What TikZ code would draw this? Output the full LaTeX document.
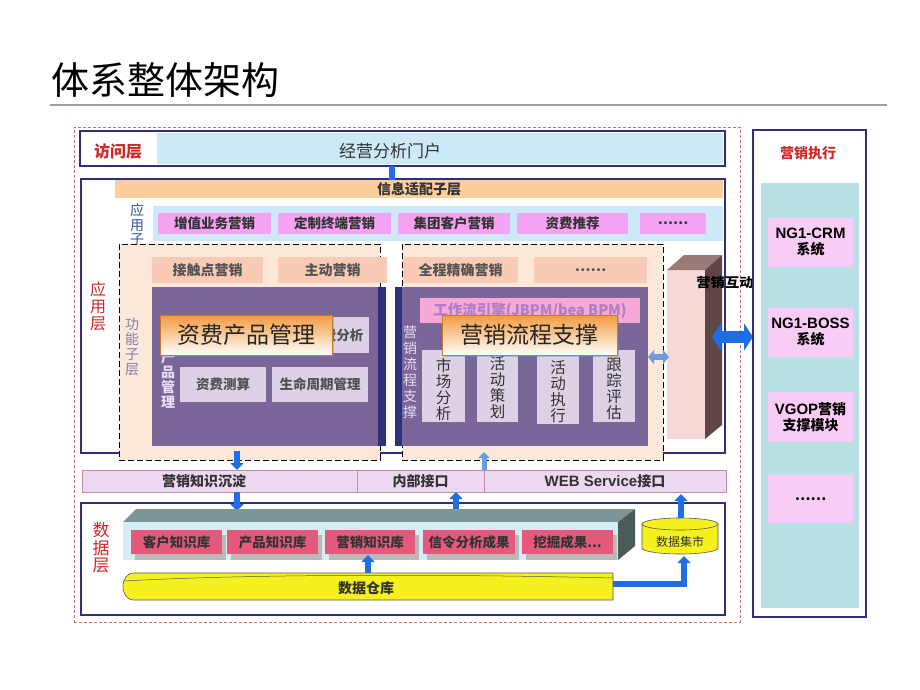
\documentclass[tikz,border=0pt]{standalone}
\usepackage{fontspec}
\setmainfont{Noto Sans CJK SC}
\newfontfamily\arialf{Liberation Sans}
\usetikzlibrary{arrows.meta,shadows}
\definecolor{navy}{HTML}{2F2F7C}
\definecolor{redt}{HTML}{D02828}
\definecolor{outerc}{HTML}{C87070}
\definecolor{lblue}{HTML}{CDE9F8}
\definecolor{orbar}{HTML}{FBCF9C}
\definecolor{mag}{HTML}{F4A2F2}
\definecolor{peach}{HTML}{FCE9DA}
\definecolor{salmon}{HTML}{F9CBB6}
\definecolor{purp}{HTML}{7A6698}
\definecolor{lav}{HTML}{DDD1E5}
\definecolor{lavtext}{HTML}{E6DEF2}
\definecolor{pinkbar}{HTML}{F6A8D6}
\definecolor{wftext}{HTML}{B07CC6}
\definecolor{ifrow}{HTML}{ECD8F1}
\definecolor{ifline}{HTML}{C58CA0}
\definecolor{dbox}{HTML}{E6587C}
\definecolor{yel}{HTML}{F5F01E}
\definecolor{abl}{HTML}{1F6EE6}
\definecolor{abl2}{HTML}{6C9CE0}
\definecolor{tealc}{HTML}{B9E0E4}
\definecolor{pinkc}{HTML}{F8CCF4}
\definecolor{ovltop}{HTML}{F39A3C}
\definecolor{plat}{HTML}{7B9595}
\definecolor{platside}{HTML}{4B5A5A}
\definecolor{platfront}{HTML}{D4EDF2}
\definecolor{fnlabel}{HTML}{8A7AAA}
\definecolor{apsub}{HTML}{3454A8}
\definecolor{dark}{HTML}{333333}
\definecolor{pilfront}{HTML}{F8D8D6}
\definecolor{piltop}{HTML}{9A7A78}
\definecolor{pilside}{HTML}{5E4646}
\newcommand\bx[7]{%
 \pgfmathsetmacro\bxw{#4-#2}\pgfmathsetmacro\bxh{#5-#3}%
 \node[#6,minimum width=\bxw pt,minimum height=\bxh pt,inner sep=0pt,outer sep=0pt] (#1) at ({(#2+#4)/2},{(#3+#5)/2}) {#7};}
\begin{document}
\begin{tikzpicture}[x=1pt,y=-1pt,
  tx/.style={font=\fontsize{#1}{#1}\selectfont},
  tb/.style={font=\fontsize{#1}{#1}\selectfont\bfseries},
  vt/.style 2 args={font=\fontsize{#1}{#2}\selectfont, align=center},
  vtb/.style 2 args={font=\fontsize{#1}{#2}\selectfont\bfseries, align=center},
  frame/.style={draw=navy,line width=2.5pt,fill=white},
  fnbox/.style={fill=peach,draw=black,dash pattern=on 6pt off 3pt,line width=0.7pt},
  rowbox/.style={fill=mag,tb=13.5,text=dark},
  btn/.style={fill=salmon,tb=14,text=dark!85},
  lbox/.style={fill=lav,tb=13.5,text=dark!85},
  mtext/.style={vt={15.5}{16},text=dark},
  ovl/.style={draw=ovltop!80!black,line width=0.6pt,top color=ovltop,bottom color=white,
     drop shadow={opacity=0.35,shadow xshift=2pt,shadow yshift=-2pt},tx=23,text=black!85},
  ifbox/.style={fill=ifrow,draw=ifline,line width=0.6pt},
  kbox/.style={fill=dbox,tb=13.5,text=dark},
  ebox/.style={fill=pinkc,align=center,tb=14,text=black},
  barrow/.style={abl,line width=6pt,-{Triangle[length=7pt,width=13pt]}}
]
\useasboundingbox (0,0) rectangle (920,690);
\fill[white] (0,0) rectangle (920,690);

% title
\node[tx=38,anchor=west,text=black] (title) at (48,80) {体系整体架构};
\coordinate (rl) at (50,105);
\coordinate (rr) at (887,105);
\draw[gray!75,line width=2pt] (rl) -- (rr);

% outer dashed frame
\bx{outer}{74}{127}{740}{622}{draw=outerc,dash pattern=on 3pt off 2pt,line width=0.8pt}{}

% access layer
\bx{acc}{80}{131}{725}{166}{frame}{}
\bx{portal}{157}{133}{723}{164}{fill=lblue}{}
\node[tb=16,text=redt] (acclbl) at (118,151) {访问层};
\node[tx=17,text=dark] (portaltxt) at (390,151) {经营分析门户};

% application layer
\bx{app}{81}{179}{725}{453}{frame}{}
\coordinate (a1s) at (392,166);
\coordinate (a1e) at (392,180);
\draw[abl,line width=6pt] (a1s) -- (a1e);
\bx{info}{115}{180}{723}{198}{fill=orbar}{}
\node[tb=14,text=dark] (infotxt) at (419,189) {信息适配子层};
\bx{aprow}{153}{206}{723}{241}{fill=lblue}{}
\node[vt={14}{14.5},text=apsub] (apsubl) at (137,225) {应\\用\\子};
\bx{r1}{158}{213}{271}{234}{rowbox}{增值业务营销}
\bx{r2}{278}{213}{391}{234}{rowbox}{定制终端营销}
\bx{r3}{398}{213}{510}{234}{rowbox}{集团客户营销}
\bx{r4}{517}{213}{628}{234}{rowbox}{资费推荐}
\bx{r5}{640}{213}{706}{234}{rowbox}{……}
\node[vt={16}{17},text=redt] (applbl) at (98,306) {应\\用\\层};

% functional sublayer
\bx{fnL}{119}{244}{380}{460}{fnbox}{}
\bx{fnR}{402}{244}{663}{460}{fnbox}{}
\node[vt={14}{15},text=fnlabel] (fnlbl) at (132,347) {功\\能\\子\\层};
\bx{b1}{152}{257}{263}{283}{btn}{接触点营销}
\bx{b2}{278}{257}{387}{283}{btn}{主动营销}
\bx{b3}{403}{257}{518}{283}{btn}{全程精确营销}
\bx{b4}{534}{257}{647}{283}{btn}{……}

\bx{pL}{152}{287}{378}{446}{fill=purp}{}
\bx{sL}{378}{287}{386}{446}{fill=navy}{}
\bx{sR}{395}{287}{402}{446}{fill=navy}{}
\bx{pR}{402}{287}{648}{446}{fill=purp}{}

% left panel
\node[vtb={14}{15},text=lavtext] (pLv) at (168,365) {资\\费\\产\\品\\管\\理};
\bx{l1}{270}{317}{369}{353}{fill=lav}{}
\node[tb=13.5,text=dark!85,anchor=east] (l1t) at (367,335) {费分析};
\bx{l2}{180}{367}{266}{402}{lbox}{资费测算}
\bx{l3}{272}{367}{368}{402}{lbox}{生命周期管理}
\bx{ovL}{160}{315}{332}{355}{ovl}{资费产品管理}

% right panel
\bx{wf}{420}{298}{640}{323}{fill=pinkbar,tb=14.5,text=wftext}{工作流引擎(JBPM/bea BPM)}
\node[vt={14}{16},text=lavtext] (pRv) at (410,372) {营\\销\\流\\程\\支\\撑};
\bx{m1}{422}{350}{465}{422}{fill=lav}{}
\bx{m2}{477}{350}{518}{422}{fill=lav}{}
\bx{m3}{537}{353}{579}{424}{fill=lav}{}
\bx{m4}{593}{350}{635}{422}{fill=lav}{}
\node[mtext] (m1t) at (443.5,390) {市\\场\\分\\析};
\node[mtext] (m2t) at (497.5,388) {活\\动\\策\\划};
\node[mtext] (m3t) at (558,392) {活\\动\\执\\行};
\node[mtext] (m4t) at (614,389) {跟\\踪\\评\\估};
\bx{ovR}{442}{315}{617}{355}{ovl}{营销流程支撑}

% pillar
\fill[pilfront] (667,270) rectangle (705,439);
\fill[piltop] (667,270) -- (684,255) -- (722,255) -- (705,270) -- cycle;
\fill[pilside] (705,270) -- (722,255) -- (722,425) -- (705,439) -- cycle;
\node[tb=13,text=black,xscale=1.1] (pillbl) at (725,283) {营销互动};

% small and big double arrows
\coordinate (da1) at (648,357);
\coordinate (da2) at (669,357);
\draw[abl2,line width=6pt,{Triangle[length=6pt,width=14pt]}-{Triangle[length=6pt,width=14pt]}] (da1) -- (da2);
\coordinate (db1) at (712,337);
\coordinate (db2) at (753,337);
\draw[abl,line width=12pt,{Triangle[length=9pt,width=27pt]}-{Triangle[length=9pt,width=27pt]}] (db1) -- (db2);

% interface row
\bx{if1}{82}{470}{357}{492}{ifbox}{}
\bx{if2}{357}{470}{484}{492}{ifbox,tb=14,text=dark}{内部接口}
\bx{if3}{484}{470}{726}{492}{ifbox,tb=14,text=dark}{{\arialf\fontsize{15}{15}\selectfont\bfseries WEB Service}接口}
\node[tb=14,text=dark] (if1t) at (204,481) {营销知识沉淀};

% arrows between layers
\coordinate (c1a) at (237,451);
\coordinate (c1b) at (237,470);
\draw[barrow] (c1a) -- (c1b);
\coordinate (c2a) at (237,492);
\coordinate (c2b) at (237,511);
\coordinate (c3a) at (456,512);
\coordinate (c3b) at (456,492);
\coordinate (c4a) at (484,470);
\coordinate (c4b) at (484,452);
\draw[abl2,line width=5pt,-{Triangle[length=6pt,width=11pt]}] (c4a) -- (c4b);

% data layer
\bx{dl}{81}{503}{725}{615}{frame}{}
\draw[barrow] (c2a) -- (c2b);
\draw[barrow] (c3a) -- (c3b);
\node[vt={17}{17.5},text=redt] (dllbl) at (101,548) {数\\据\\层};
\fill[plat] (123,522) -- (136,509) -- (635,509) -- (618,522) -- cycle;
\fill[platfront] (123,522) rectangle (618,560);
\fill[platside] (618,522) -- (635,509) -- (635,546) -- (618,560) -- cycle;
\foreach \xa/\xb in {131/222,227/318,325/415,423/515,522/613}{
  \fill[gray!55] (\xa+4,535) rectangle (\xb+4,560);
}
\bx{k1}{131}{530}{222}{554}{kbox}{客户知识库}
\bx{k2}{227}{530}{318}{554}{kbox}{产品知识库}
\bx{k3}{325}{530}{415}{554}{kbox}{营销知识库}
\bx{k4}{423}{530}{515}{554}{kbox}{信令分析成果}
\bx{k5}{522}{530}{613}{554}{kbox}{挖掘成果...}

% data warehouse
\draw[fill=yel,draw=gray!70!black,line width=0.6pt] (613,573) -- (133,573)
  arc[start angle=270,end angle=90,x radius=10,y radius=13.5] -- (613,600) -- cycle;
\draw[gray!70!black,line width=0.5pt] (124,581) .. controls (250,574) and (450,574) .. (613,578);
\node[tb=14,text=dark] (dw) at (366,588) {数据仓库};
\coordinate (c5a) at (368,573);
\coordinate (c5b) at (368,555);
\draw[barrow] (c5a) -- (c5b);

% data mart
\draw[fill=yel,draw=gray!70!black,line width=0.6pt] (642,524) -- (642,548)
  arc[start angle=180,end angle=0,x radius=38,y radius=6] -- (718,524) -- cycle;
\draw[fill=yel,draw=gray!70!black,line width=0.6pt] (680,524) ellipse [x radius=38,y radius=6];
\node[tx=12,text=dark] (dm) at (680,542) {数据集市};
\coordinate (c6a) at (613,584);
\coordinate (c6b) at (684,556);
\draw[barrow] (c6a) -| (c6b);
\coordinate (c7a) at (681,518);
\coordinate (c7b) at (681,494);
\draw[barrow] (c7a) -- (c7b);

% execution column
\bx{exe}{753}{130}{866}{617}{frame}{}
\node[tb=14,text=redt] (exelbl) at (808,153) {营销执行};
\bx{exein}{761}{183}{859}{608}{fill=tealc}{}
\bx{e1}{768}{218}{853}{267}{ebox}{{\arialf\fontsize{15}{15}\selectfont\bfseries NG1-CRM}\\[2pt]系统}
\bx{e2}{768}{308}{853}{357}{ebox}{{\arialf\fontsize{15}{15}\selectfont\bfseries NG1-BOSS}\\[2pt]系统}
\bx{e3}{768}{392}{853}{442}{ebox}{{\arialf\fontsize{15}{15}\selectfont\bfseries VGOP}营销\\[2pt]支撑模块}
\bx{e4}{768}{475}{853}{523}{ebox}{……}
\end{tikzpicture}
\end{document}
